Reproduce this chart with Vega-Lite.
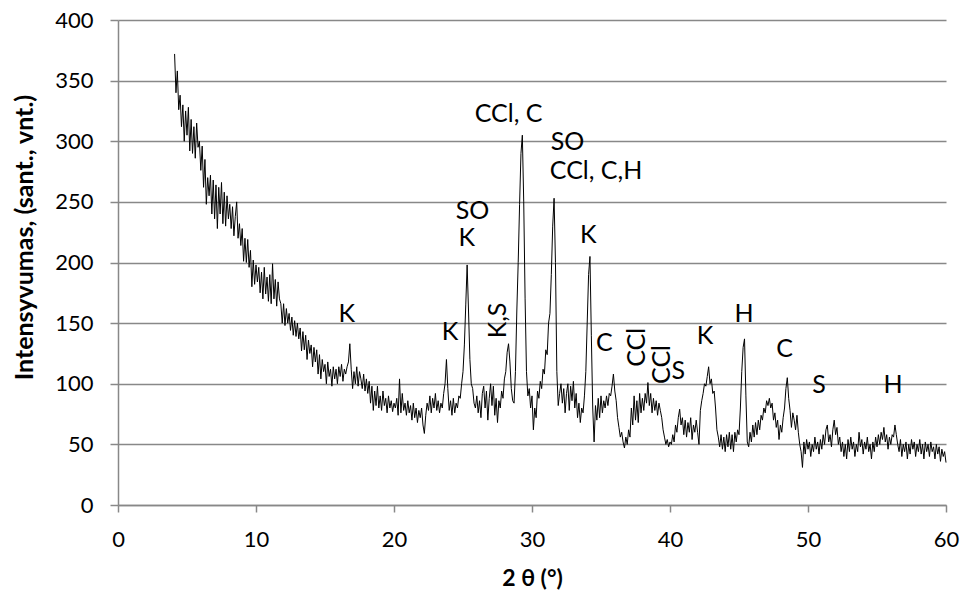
{
"$schema":"https://vega.github.io/schema/vega-lite/v6.json",
"width":828,"height":485,"autosize":"none",
"padding":{"left":118,"top":20,"right":17,"bottom":87},
"background":"white",
"config":{"view":{"stroke":null},"font":"Lato"},
"datasets":{
"xrd":[
{"x":4.1,"y":372},{"x":4.2,"y":340},{"x":4.3,"y":358},{"x":4.4,"y":326},{"x":4.5,"y":338},{"x":4.6,"y":312},{"x":4.7,"y":330},{"x":4.8,"y":300},{"x":4.9,"y":325},{"x":5.0,"y":305},
{"x":5.1,"y":328},{"x":5.2,"y":292},{"x":5.3,"y":318},{"x":5.4,"y":290},{"x":5.5,"y":312},{"x":5.6,"y":286},{"x":5.7,"y":315},{"x":5.8,"y":295},{"x":5.9,"y":300},{"x":6.0,"y":276},
{"x":6.1,"y":296},{"x":6.2,"y":262},{"x":6.3,"y":285},{"x":6.4,"y":248},{"x":6.5,"y":270},{"x":6.6,"y":255},{"x":6.7,"y":272},{"x":6.8,"y":240},{"x":6.9,"y":268},{"x":7.0,"y":236},
{"x":7.1,"y":264},{"x":7.2,"y":228},{"x":7.3,"y":262},{"x":7.4,"y":240},{"x":7.5,"y":266},{"x":7.6,"y":232},{"x":7.7,"y":258},{"x":7.8,"y":230},{"x":7.9,"y":255},{"x":8.0,"y":236},
{"x":8.1,"y":248},{"x":8.2,"y":228},{"x":8.3,"y":246},{"x":8.4,"y":222},{"x":8.5,"y":238},{"x":8.6,"y":250},{"x":8.7,"y":220},{"x":8.8,"y":232},{"x":8.9,"y":214},{"x":9.0,"y":228},
{"x":9.1,"y":201},{"x":9.2,"y":220},{"x":9.3,"y":200},{"x":9.4,"y":219},{"x":9.5,"y":196},{"x":9.6,"y":210},{"x":9.7,"y":180},{"x":9.8,"y":202},{"x":9.9,"y":182},{"x":10.0,"y":198},
{"x":10.1,"y":184},{"x":10.2,"y":196},{"x":10.3,"y":175},{"x":10.4,"y":192},{"x":10.5,"y":170},{"x":10.6,"y":196},{"x":10.7,"y":174},{"x":10.8,"y":188},{"x":10.9,"y":168},{"x":11.0,"y":190},
{"x":11.1,"y":166},{"x":11.2,"y":199},{"x":11.3,"y":170},{"x":11.4,"y":186},{"x":11.5,"y":164},{"x":11.6,"y":184},{"x":11.7,"y":170},{"x":11.8,"y":166},{"x":11.9,"y":150},{"x":12.0,"y":166},
{"x":12.1,"y":148},{"x":12.2,"y":162},{"x":12.3,"y":150},{"x":12.4,"y":158},{"x":12.5,"y":144},{"x":12.6,"y":155},{"x":12.7,"y":140},{"x":12.8,"y":152},{"x":12.9,"y":139},{"x":13.0,"y":150},
{"x":13.1,"y":137},{"x":13.2,"y":146},{"x":13.3,"y":127},{"x":13.4,"y":143},{"x":13.5,"y":128},{"x":13.6,"y":140},{"x":13.7,"y":120},{"x":13.8,"y":136},{"x":13.9,"y":125},{"x":14.0,"y":132},
{"x":14.1,"y":114},{"x":14.2,"y":130},{"x":14.3,"y":118},{"x":14.4,"y":128},{"x":14.5,"y":108},{"x":14.6,"y":124},{"x":14.7,"y":104},{"x":14.8,"y":120},{"x":14.9,"y":110},{"x":15.0,"y":116},
{"x":15.1,"y":100},{"x":15.2,"y":118},{"x":15.3,"y":106},{"x":15.4,"y":112},{"x":15.5,"y":98},{"x":15.6,"y":114},{"x":15.7,"y":104},{"x":15.8,"y":112},{"x":15.9,"y":100},{"x":16.0,"y":114},
{"x":16.1,"y":106},{"x":16.2,"y":116},{"x":16.3,"y":102},{"x":16.4,"y":112},{"x":16.5,"y":108},{"x":16.6,"y":114},{"x":16.7,"y":118},{"x":16.8,"y":133},{"x":16.9,"y":112},{"x":17.0,"y":96},
{"x":17.1,"y":110},{"x":17.2,"y":100},{"x":17.3,"y":114},{"x":17.4,"y":98},{"x":17.5,"y":110},{"x":17.6,"y":104},{"x":17.7,"y":96},{"x":17.8,"y":108},{"x":17.9,"y":94},{"x":18.0,"y":104},
{"x":18.1,"y":92},{"x":18.2,"y":102},{"x":18.3,"y":84},{"x":18.4,"y":98},{"x":18.5,"y":78},{"x":18.6,"y":94},{"x":18.7,"y":82},{"x":18.8,"y":98},{"x":18.9,"y":80},{"x":19.0,"y":90},
{"x":19.1,"y":78},{"x":19.2,"y":94},{"x":19.3,"y":82},{"x":19.4,"y":88},{"x":19.5,"y":76},{"x":19.6,"y":90},{"x":19.7,"y":80},{"x":19.8,"y":86},{"x":19.9,"y":77},{"x":20.0,"y":84},
{"x":20.1,"y":80},{"x":20.2,"y":88},{"x":20.3,"y":74},{"x":20.4,"y":104},{"x":20.5,"y":76},{"x":20.6,"y":92},{"x":20.7,"y":78},{"x":20.8,"y":84},{"x":20.9,"y":74},{"x":21.0,"y":86},
{"x":21.1,"y":76},{"x":21.2,"y":82},{"x":21.3,"y":70},{"x":21.4,"y":84},{"x":21.5,"y":72},{"x":21.6,"y":80},{"x":21.7,"y":68},{"x":21.8,"y":78},{"x":21.9,"y":72},{"x":22.0,"y":80},
{"x":22.1,"y":66},{"x":22.2,"y":59},{"x":22.3,"y":74},{"x":22.4,"y":84},{"x":22.5,"y":78},{"x":22.6,"y":90},{"x":22.7,"y":76},{"x":22.8,"y":88},{"x":22.9,"y":80},{"x":23.0,"y":92},
{"x":23.1,"y":78},{"x":23.2,"y":86},{"x":23.3,"y":76},{"x":23.4,"y":84},{"x":23.5,"y":80},{"x":23.6,"y":92},{"x":23.7,"y":100},{"x":23.8,"y":120},{"x":23.9,"y":96},{"x":24.0,"y":78},
{"x":24.1,"y":86},{"x":24.2,"y":74},{"x":24.3,"y":88},{"x":24.4,"y":76},{"x":24.5,"y":84},{"x":24.6,"y":80},{"x":24.7,"y":90},{"x":24.8,"y":88},{"x":24.9,"y":100},{"x":25.0,"y":110},
{"x":25.1,"y":132},{"x":25.2,"y":165},{"x":25.3,"y":198},{"x":25.4,"y":160},{"x":25.5,"y":120},{"x":25.6,"y":100},{"x":25.7,"y":96},{"x":25.8,"y":84},{"x":25.9,"y":80},{"x":26.0,"y":90},
{"x":26.1,"y":76},{"x":26.2,"y":86},{"x":26.3,"y":72},{"x":26.4,"y":92},{"x":26.5,"y":98},{"x":26.6,"y":80},{"x":26.7,"y":94},{"x":26.8,"y":70},{"x":26.9,"y":88},{"x":27.0,"y":100},
{"x":27.1,"y":82},{"x":27.2,"y":98},{"x":27.3,"y":74},{"x":27.4,"y":88},{"x":27.5,"y":68},{"x":27.6,"y":86},{"x":27.7,"y":80},{"x":27.8,"y":94},{"x":27.9,"y":88},{"x":28.0,"y":104},
{"x":28.1,"y":110},{"x":28.2,"y":126},{"x":28.3,"y":133},{"x":28.4,"y":118},{"x":28.5,"y":96},{"x":28.6,"y":86},{"x":28.7,"y":84},{"x":28.8,"y":110},{"x":28.9,"y":160},{"x":29.0,"y":200},
{"x":29.1,"y":248},{"x":29.2,"y":290},{"x":29.3,"y":305},{"x":29.4,"y":250},{"x":29.5,"y":170},{"x":29.6,"y":110},{"x":29.7,"y":90},{"x":29.8,"y":96},{"x":29.9,"y":80},{"x":30.0,"y":90},
{"x":30.1,"y":62},{"x":30.2,"y":80},{"x":30.3,"y":72},{"x":30.4,"y":94},{"x":30.5,"y":88},{"x":30.6,"y":102},{"x":30.7,"y":96},{"x":30.8,"y":112},{"x":30.9,"y":108},{"x":31.0,"y":128},
{"x":31.1,"y":124},{"x":31.2,"y":150},{"x":31.3,"y":158},{"x":31.4,"y":190},{"x":31.5,"y":230},{"x":31.6,"y":253},{"x":31.7,"y":200},{"x":31.8,"y":110},{"x":31.9,"y":82},{"x":32.0,"y":92},
{"x":32.1,"y":100},{"x":32.2,"y":84},{"x":32.3,"y":96},{"x":32.4,"y":76},{"x":32.5,"y":92},{"x":32.6,"y":100},{"x":32.7,"y":78},{"x":32.8,"y":98},{"x":32.9,"y":86},{"x":33.0,"y":102},
{"x":33.1,"y":80},{"x":33.2,"y":92},{"x":33.3,"y":72},{"x":33.4,"y":84},{"x":33.5,"y":68},{"x":33.6,"y":80},{"x":33.7,"y":76},{"x":33.8,"y":90},{"x":33.9,"y":110},{"x":34.0,"y":150},
{"x":34.1,"y":190},{"x":34.2,"y":205},{"x":34.3,"y":140},{"x":34.4,"y":80},{"x":34.5,"y":52},{"x":34.6,"y":82},{"x":34.7,"y":70},{"x":34.8,"y":88},{"x":34.9,"y":72},{"x":35.0,"y":90},
{"x":35.1,"y":76},{"x":35.2,"y":86},{"x":35.3,"y":80},{"x":35.4,"y":90},{"x":35.5,"y":82},{"x":35.6,"y":92},{"x":35.7,"y":90},{"x":35.8,"y":98},{"x":35.9,"y":108},{"x":36.0,"y":94},
{"x":36.1,"y":86},{"x":36.2,"y":72},{"x":36.3,"y":64},{"x":36.4,"y":56},{"x":36.5,"y":60},{"x":36.6,"y":52},{"x":36.7,"y":47},{"x":36.8,"y":56},{"x":36.9,"y":50},{"x":37.0,"y":62},
{"x":37.1,"y":56},{"x":37.2,"y":80},{"x":37.3,"y":66},{"x":37.4,"y":90},{"x":37.5,"y":70},{"x":37.6,"y":86},{"x":37.7,"y":68},{"x":37.8,"y":92},{"x":37.9,"y":76},{"x":38.0,"y":88},
{"x":38.1,"y":78},{"x":38.2,"y":92},{"x":38.3,"y":84},{"x":38.4,"y":101},{"x":38.5,"y":82},{"x":38.6,"y":92},{"x":38.7,"y":76},{"x":38.8,"y":88},{"x":38.9,"y":78},{"x":39.0,"y":86},
{"x":39.1,"y":74},{"x":39.2,"y":84},{"x":39.3,"y":78},{"x":39.4,"y":72},{"x":39.5,"y":62},{"x":39.6,"y":56},{"x":39.7,"y":50},{"x":39.8,"y":54},{"x":39.9,"y":48},{"x":40.0,"y":52},
{"x":40.1,"y":50},{"x":40.2,"y":58},{"x":40.3,"y":52},{"x":40.4,"y":66},{"x":40.5,"y":60},{"x":40.6,"y":72},{"x":40.7,"y":79},{"x":40.8,"y":66},{"x":40.9,"y":72},{"x":41.0,"y":58},
{"x":41.1,"y":70},{"x":41.2,"y":56},{"x":41.3,"y":68},{"x":41.4,"y":60},{"x":41.5,"y":72},{"x":41.6,"y":54},{"x":41.7,"y":66},{"x":41.8,"y":60},{"x":41.9,"y":70},{"x":42.0,"y":60},
{"x":42.1,"y":50},{"x":42.2,"y":78},{"x":42.3,"y":86},{"x":42.4,"y":92},{"x":42.5,"y":100},{"x":42.6,"y":98},{"x":42.7,"y":106},{"x":42.8,"y":114},{"x":42.9,"y":100},{"x":43.0,"y":104},
{"x":43.1,"y":92},{"x":43.2,"y":94},{"x":43.3,"y":80},{"x":43.4,"y":62},{"x":43.5,"y":56},{"x":43.6,"y":48},{"x":43.7,"y":58},{"x":43.8,"y":46},{"x":43.9,"y":56},{"x":44.0,"y":44},
{"x":44.1,"y":58},{"x":44.2,"y":48},{"x":44.3,"y":60},{"x":44.4,"y":46},{"x":44.5,"y":58},{"x":44.6,"y":44},{"x":44.7,"y":60},{"x":44.8,"y":52},{"x":44.9,"y":62},{"x":45.0,"y":58},
{"x":45.1,"y":80},{"x":45.2,"y":110},{"x":45.3,"y":130},{"x":45.4,"y":137},{"x":45.5,"y":90},{"x":45.6,"y":52},{"x":45.7,"y":48},{"x":45.8,"y":60},{"x":45.9,"y":52},{"x":46.0,"y":66},
{"x":46.1,"y":56},{"x":46.2,"y":68},{"x":46.3,"y":58},{"x":46.4,"y":70},{"x":46.5,"y":62},{"x":46.6,"y":74},{"x":46.7,"y":70},{"x":46.8,"y":80},{"x":46.9,"y":76},{"x":47.0,"y":86},
{"x":47.1,"y":82},{"x":47.2,"y":88},{"x":47.3,"y":80},{"x":47.4,"y":84},{"x":47.5,"y":70},{"x":47.6,"y":76},{"x":47.7,"y":64},{"x":47.8,"y":70},{"x":47.9,"y":54},{"x":48.0,"y":66},
{"x":48.1,"y":60},{"x":48.2,"y":72},{"x":48.3,"y":80},{"x":48.4,"y":96},{"x":48.5,"y":105},{"x":48.6,"y":88},{"x":48.7,"y":78},{"x":48.8,"y":64},{"x":48.9,"y":76},{"x":49.0,"y":70},
{"x":49.1,"y":62},{"x":49.2,"y":74},{"x":49.3,"y":60},{"x":49.4,"y":50},{"x":49.5,"y":44},{"x":49.6,"y":31},{"x":49.7,"y":52},{"x":49.8,"y":42},{"x":49.9,"y":54},{"x":50.0,"y":46},
{"x":50.1,"y":52},{"x":50.2,"y":40},{"x":50.3,"y":50},{"x":50.4,"y":44},{"x":50.5,"y":56},{"x":50.6,"y":46},{"x":50.7,"y":52},{"x":50.8,"y":42},{"x":50.9,"y":54},{"x":51.0,"y":46},
{"x":51.1,"y":58},{"x":51.2,"y":50},{"x":51.3,"y":62},{"x":51.4,"y":66},{"x":51.5,"y":52},{"x":51.6,"y":58},{"x":51.7,"y":48},{"x":51.8,"y":62},{"x":51.9,"y":70},{"x":52.0,"y":58},
{"x":52.1,"y":64},{"x":52.2,"y":50},{"x":52.3,"y":56},{"x":52.4,"y":44},{"x":52.5,"y":52},{"x":52.6,"y":40},{"x":52.7,"y":50},{"x":52.8,"y":38},{"x":52.9,"y":54},{"x":53.0,"y":44},
{"x":53.1,"y":56},{"x":53.2,"y":46},{"x":53.3,"y":52},{"x":53.4,"y":40},{"x":53.5,"y":50},{"x":53.6,"y":44},{"x":53.7,"y":60},{"x":53.8,"y":48},{"x":53.9,"y":54},{"x":54.0,"y":42},
{"x":54.1,"y":52},{"x":54.2,"y":46},{"x":54.3,"y":56},{"x":54.4,"y":44},{"x":54.5,"y":50},{"x":54.6,"y":38},{"x":54.7,"y":52},{"x":54.8,"y":44},{"x":54.9,"y":56},{"x":55.0,"y":48},
{"x":55.1,"y":58},{"x":55.2,"y":50},{"x":55.3,"y":60},{"x":55.4,"y":54},{"x":55.5,"y":64},{"x":55.6,"y":52},{"x":55.7,"y":58},{"x":55.8,"y":46},{"x":55.9,"y":56},{"x":56.0,"y":50},
{"x":56.1,"y":58},{"x":56.2,"y":56},{"x":56.3,"y":66},{"x":56.4,"y":58},{"x":56.5,"y":50},{"x":56.6,"y":44},{"x":56.7,"y":54},{"x":56.8,"y":40},{"x":56.9,"y":50},{"x":57.0,"y":44},
{"x":57.1,"y":52},{"x":57.2,"y":38},{"x":57.3,"y":50},{"x":57.4,"y":42},{"x":57.5,"y":54},{"x":57.6,"y":46},{"x":57.7,"y":52},{"x":57.8,"y":40},{"x":57.9,"y":50},{"x":58.0,"y":44},
{"x":58.1,"y":54},{"x":58.2,"y":42},{"x":58.3,"y":50},{"x":58.4,"y":38},{"x":58.5,"y":52},{"x":58.6,"y":44},{"x":58.7,"y":50},{"x":58.8,"y":40},{"x":58.9,"y":52},{"x":59.0,"y":44},
{"x":59.1,"y":48},{"x":59.2,"y":38},{"x":59.3,"y":50},{"x":59.4,"y":42},{"x":59.5,"y":48},{"x":59.6,"y":36},{"x":59.7,"y":46},{"x":59.8,"y":40},{"x":59.9,"y":44},{"x":60.0,"y":35}
],
"lab":[
{"x":16.57,"y":157.5,"text":"K"},
{"x":24.06,"y":142.3,"text":"K"},
{"x":25.69,"y":242.6,"text":"SO"},
{"x":25.27,"y":219.8,"text":"K"},
{"x":28.3,"y":322.5,"text":"CCl, C"},
{"x":32.57,"y":299.4,"text":"SO"},
{"x":34.64,"y":275.5,"text":"CCl, C,H"},
{"x":34.08,"y":222.7,"text":"K"},
{"x":35.25,"y":134,"text":"C"},
{"x":40.6,"y":110.5,"text":"S"},
{"x":42.54,"y":139,"text":"K"},
{"x":45.36,"y":157.5,"text":"H"},
{"x":48.3,"y":129,"text":"C"},
{"x":50.8,"y":98.6,"text":"S"},
{"x":56.16,"y":99,"text":"H"}
],
"labv":[
{"x":27.54,"y":152.2,"text":"K,S"},
{"x":37.6,"y":130,"text":"CCl"},
{"x":39.4,"y":115.9,"text":"CCl"}
]
},
"layer":[
{"data":{"name":"xrd"},
 "mark":{"type":"line","color":"black","strokeWidth":1},
 "encoding":{
  "x":{"field":"x","type":"quantitative","scale":{"domain":[0,60],"nice":false},
   "axis":{"values":[0,10,20,30,40,50,60],"grid":false,"title":"2 θ (°)","titleFontWeight":"bold","titleFontSize":23,"titleColor":"black","titleBaseline":"middle","titleY":73,
    "labelFontSize":22,"labelColor":"black","labelFlush":false,"labelBaseline":"middle","labelPadding":27,"tickSize":7,"tickColor":"#888888","tickWidth":1.5,"domainColor":"#888888","domainWidth":1.5}},
  "y":{"field":"y","type":"quantitative","scale":{"domain":[0,400],"nice":false},
   "axis":{"values":[0,50,100,150,200,250,300,350,400],"grid":true,"gridColor":"#888888","gridWidth":1.5,"title":"Intensyvumas, (sant., vnt.)","titleFontWeight":"bold","titleFontSize":25,"titleColor":"black",
    "titleAngle":270,"titleAlign":"center","titleBaseline":"middle","titleX":-94,"titleY":217,
    "labelFontSize":22,"labelColor":"black","labelFlush":false,"labelPadding":17,"tickSize":8,"tickColor":"#888888","tickWidth":1.5,"domainColor":"#888888","domainWidth":1.5}}
 }},
{"data":{"name":"lab"},
 "mark":{"type":"text","font":"Lato","fontSize":25,"color":"black","align":"center","baseline":"middle"},
 "encoding":{"x":{"field":"x","type":"quantitative"},"y":{"field":"y","type":"quantitative"},"text":{"field":"text"}}},
{"data":{"name":"labv"},
 "mark":{"type":"text","font":"Lato","fontSize":25,"color":"black","align":"center","baseline":"middle","angle":270},
 "encoding":{"x":{"field":"x","type":"quantitative"},"y":{"field":"y","type":"quantitative"},"text":{"field":"text"}}}
]
}
